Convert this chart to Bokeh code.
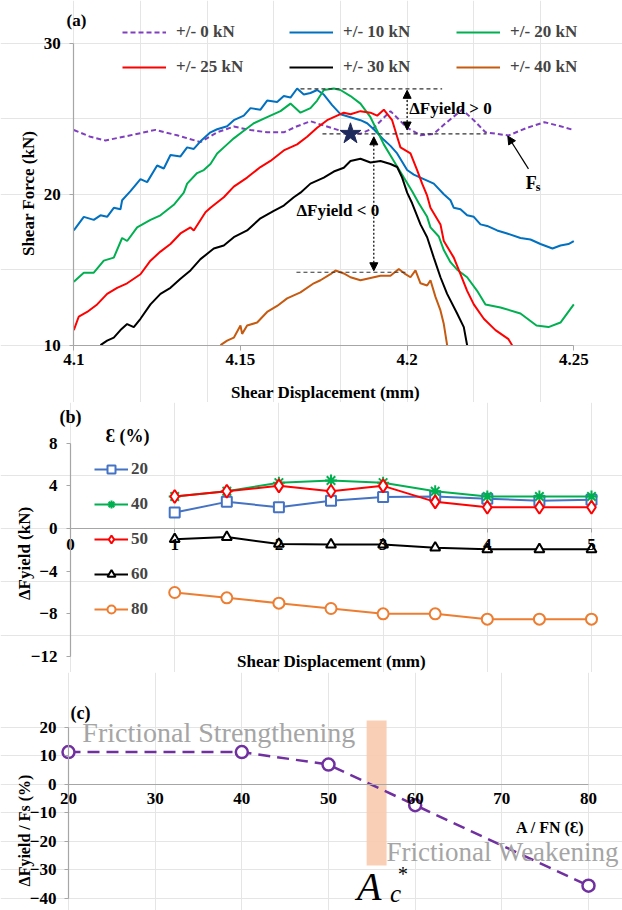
import math
from bokeh.plotting import figure
from bokeh.models import (LinearAxis, FixedTicker, Legend, LegendItem, Arrow,
                          NormalHead, Range1d, NumeralTickFormatter)
from bokeh.layouts import column
from bokeh.embed import file_html
from bokeh.resources import INLINE
from bokeh.core.properties import value

# ---------------- data: panel (a) ----------------
fs_0kN = [(4.100, 24.25), (4.105, 23.8), (4.1095, 23.56), (4.117, 23.9), (4.1245, 24.26),
          (4.131, 23.9), (4.138, 23.45), (4.143, 24.1), (4.148, 24.48), (4.153, 24.25),
          (4.158, 24.1), (4.163, 24.1), (4.167, 24.5), (4.171, 24.83), (4.175, 24.55),
          (4.1815, 24.1), (4.186, 24.0), (4.190, 24.4), (4.195, 25.5), (4.200, 24.4),
          (4.204, 23.9), (4.208, 24.0), (4.211, 24.6), (4.2165, 25.6), (4.220, 24.9),
          (4.2235, 24.1), (4.2304, 23.89), (4.236, 24.4), (4.2412, 24.77), (4.246, 24.5),
          (4.250, 24.25)]
fs_10kN = [(4.100, 17.6), (4.103, 18.5), (4.106, 18.3), (4.108, 18.6), (4.110, 18.5), (4.112, 19.1),
           (4.114, 19.0), (4.1145, 19.6), (4.117, 20.2), (4.120, 21.0), (4.122, 20.8), (4.125, 21.9),
           (4.127, 21.7), (4.129, 22.6), (4.132, 22.5), (4.134, 23.1), (4.136, 23.0), (4.138, 23.5),
           (4.141, 24.1), (4.143, 24.3), (4.146, 24.5), (4.148, 24.9), (4.151, 25.2), (4.153, 25.7),
           (4.156, 25.6), (4.158, 26.2), (4.161, 26.1), (4.163, 26.5), (4.165, 26.4), (4.167, 27.0),
           (4.169, 26.6), (4.171, 26.7), (4.173, 26.9), (4.175, 26.6), (4.1775, 25.9), (4.180, 25.3),
           (4.183, 25.1), (4.186, 24.9), (4.188, 24.7), (4.190, 24.3), (4.193, 23.6), (4.195, 23.2),
           (4.197, 22.7), (4.200, 21.6), (4.202, 21.3), (4.204, 21.1), (4.206, 20.9), (4.208, 20.7),
           (4.211, 20.0), (4.213, 19.6), (4.214, 19.1), (4.216, 19.0), (4.218, 18.6), (4.220, 18.5),
           (4.222, 18.0), (4.224, 17.9), (4.227, 17.6), (4.230, 17.4), (4.234, 17.1), (4.237, 17.0),
           (4.240, 16.7), (4.2436, 16.4), (4.246, 16.6), (4.2484, 16.7), (4.250, 16.9)]
fs_20kN = [(4.100, 14.2), (4.103, 14.8), (4.106, 14.8), (4.109, 15.6), (4.112, 15.8), (4.1145, 17.1),
           (4.116, 16.9), (4.119, 17.8), (4.123, 18.3), (4.126, 18.6), (4.130, 19.3), (4.133, 20.1),
           (4.134, 20.7), (4.137, 21.4), (4.139, 21.6), (4.141, 22.0), (4.143, 22.7), (4.146, 23.3),
           (4.148, 23.7), (4.151, 24.2), (4.154, 24.7), (4.158, 25.1), (4.162, 25.5), (4.165, 26.0),
           (4.168, 25.4), (4.171, 25.7), (4.173, 26.2), (4.175, 26.9), (4.178, 27.0), (4.180, 26.9),
           (4.183, 26.5), (4.186, 26.0), (4.189, 25.1), (4.191, 24.2), (4.193, 23.3), (4.196, 22.2),
           (4.199, 21.1), (4.2015, 20.2), (4.2035, 19.4), (4.206, 18.5), (4.207, 17.8), (4.2095, 17.2),
           (4.211, 16.3), (4.213, 15.5), (4.215, 15.0), (4.218, 14.5), (4.221, 13.6), (4.2235, 12.7),
           (4.228, 12.5), (4.234, 12.1), (4.2388, 11.3), (4.2424, 11.2), (4.246, 11.5), (4.250, 12.7)]
fs_25kN = [(4.100, 11.0), (4.1015, 11.9), (4.104, 12.2), (4.107, 12.7), (4.110, 13.4), (4.113, 13.8),
           (4.116, 14.1), (4.120, 14.7), (4.123, 15.6), (4.126, 16.2), (4.129, 16.7), (4.132, 17.4),
           (4.135, 17.8), (4.136, 17.6), (4.1395, 18.8), (4.141, 19.1), (4.145, 19.8), (4.148, 20.5),
           (4.152, 21.1), (4.156, 21.8), (4.159, 22.2), (4.163, 22.9), (4.167, 23.3), (4.170, 23.8),
           (4.173, 24.4), (4.176, 24.9), (4.179, 25.2), (4.181, 25.4), (4.183, 25.3), (4.186, 25.5),
           (4.189, 25.4), (4.191, 25.2), (4.193, 25.6), (4.1955, 24.9), (4.197, 23.8), (4.198, 23.1),
           (4.201, 22.7), (4.203, 21.6), (4.2045, 20.7), (4.206, 19.9), (4.207, 19.1), (4.210, 18.0),
           (4.211, 16.9), (4.214, 15.8), (4.216, 14.7), (4.218, 13.6), (4.220, 12.7), (4.223, 11.75),
           (4.2265, 11.0), (4.2304, 10.4), (4.2315, 10.0)]
fs_30kN = [(4.108, 10.0), (4.110, 10.3), (4.112, 10.5), (4.114, 11.0), (4.116, 11.4), (4.118, 11.2),
           (4.120, 11.75), (4.123, 12.7), (4.126, 13.4), (4.129, 13.8), (4.132, 14.4), (4.135, 14.95),
           (4.138, 15.7), (4.142, 16.4), (4.145, 16.6), (4.148, 17.15), (4.152, 17.6), (4.156, 18.4),
           (4.160, 18.9), (4.163, 19.25), (4.166, 19.8), (4.168, 20.1), (4.171, 20.7), (4.175, 21.1),
           (4.178, 21.5), (4.181, 21.75), (4.183, 22.2), (4.186, 22.35), (4.189, 22.1), (4.192, 22.2),
           (4.195, 22.0), (4.197, 21.8), (4.1985, 21.1), (4.200, 20.1), (4.2015, 19.4), (4.204, 18.0),
           (4.206, 17.15), (4.208, 15.8), (4.210, 14.5), (4.212, 13.4), (4.215, 12.1), (4.217, 11.2),
           (4.218, 10.0)]
fs_40kN = [(4.144, 10.0), (4.146, 10.3), (4.148, 10.5), (4.150, 11.3), (4.1505, 10.75), (4.152, 11.3),
           (4.155, 11.5), (4.158, 12.2), (4.161, 12.6), (4.164, 13.1), (4.168, 13.5), (4.172, 14.1),
           (4.174, 14.3), (4.177, 14.7), (4.1785, 14.95), (4.181, 14.75), (4.183, 14.5), (4.186, 14.3),
           (4.189, 14.45), (4.192, 14.6), (4.195, 14.6), (4.1975, 15.05), (4.1995, 14.7), (4.201, 14.5),
           (4.2025, 14.95), (4.204, 14.1), (4.206, 13.95), (4.207, 14.3), (4.2085, 13.2), (4.210, 12.3),
           (4.211, 11.4), (4.212, 10.0)]
a_names = ["+/- 0 kN", "+/- 10 kN", "+/- 20 kN", "+/- 25 kN", "+/- 30 kN", "+/- 40 kN"]
a_x_ticks = [4.1, 4.15, 4.2, 4.25]
a_y_ticks = [10, 20, 30]
# annotation values (a)
yield_hi, yield_ref, yield_lo = 26.98, 24.0, 14.83
star_pt = (4.183, 24.0)

# ---------------- data: panel (b) ----------------
b_x = [1, 1.5, 2, 2.5, 3, 3.5, 4, 4.5, 5]
b_eps20 = [1.5, 2.5, 2.0, 2.6, 2.95, 3.0, 2.8, 2.6, 2.7]
b_eps40 = [3.0, 3.5, 4.3, 4.5, 4.3, 3.5, 3.0, 3.0, 3.0]
b_eps50 = [3.0, 3.5, 4.0, 3.5, 4.0, 2.5, 2.0, 2.0, 2.0]
b_eps60 = [-1.0, -0.8, -1.45, -1.5, -1.5, -1.8, -1.95, -1.95, -1.95]
b_eps80 = [-6.0, -6.5, -7.0, -7.5, -8.0, -8.0, -8.5, -8.5, -8.5]
b_names = ["20", "40", "50", "60", "80"]
b_x_ticks = [0, 1, 2, 3, 4, 5]
b_y_ticks = [-12, -8, -4, 0, 4, 8]

# ---------------- data: panel (c) ----------------
c_x = [20, 40, 50, 60, 80]
c_y = [11.3, 11.3, 6.9, -7.3, -35.5]
c_x_ticks = [20, 30, 40, 50, 60, 70, 80]
c_y_ticks = [-40, -30, -20, -10, 0, 10, 20]
c_band = (54.4, 56.7, -28.4, 22.35)   # A*c band: x0, x1, y0, y1

SERIF = value("Liberation Serif")
FONT = "Liberation Serif"
W = 622
AXIS_GRAY = "#A6A6A6"


def base_fig(height, xr, yr):
    p = figure(width=W, height=height, x_range=Range1d(*xr), y_range=Range1d(*yr),
               output_backend="svg", toolbar_location=None,
               x_axis_location=None, y_axis_location=None,
               min_border_left=0, min_border_right=0, min_border_top=0, min_border_bottom=0)
    p.outline_line_color = None
    p.background_fill_color = "white"
    p.border_fill_color = "white"
    return p


def add_axis(p, side, loc, ticks, bounds, tick_out=4, standoff=8, fmt=None):
    ax = LinearAxis(fixed_location=loc, ticker=FixedTicker(ticks=ticks), bounds=bounds)
    ax.axis_line_color = AXIS_GRAY
    ax.axis_line_width = 1.2
    ax.major_tick_line_color = AXIS_GRAY if tick_out else None
    ax.major_tick_out = tick_out
    ax.major_tick_in = 0
    ax.minor_tick_line_color = None
    ax.major_label_text_font = FONT
    ax.major_label_text_font_style = "bold"
    ax.major_label_text_font_size = "17px"
    ax.major_label_text_color = "black"
    ax.major_label_standoff = standoff
    if fmt:
        ax.formatter = fmt
    p.add_layout(ax, side)
    return ax


def label(p, x, y, txt, size="17px", align="left", angle=0.0, style="bold",
          color="black", baseline="middle"):
    p.text(x=[x], y=[y], text=[txt], text_font=SERIF, text_font_style=style,
           text_font_size=size, text_align=align, text_baseline=baseline,
           angle=angle, text_color=color)


# ================= panel (a) =================
pa = base_fig(402, (4.07801, 4.26461), (6.205, 32.828))
add_axis(pa, "below", 10, a_x_ticks, (4.1, 4.25), tick_out=5, standoff=4,
         fmt=NumeralTickFormatter(format="0.0[0]"))
add_axis(pa, "left", 4.1, a_y_ticks, (10, 30), tick_out=4, standoff=9)

a_series = [fs_0kN, fs_10kN, fs_20kN, fs_25kN, fs_30kN, fs_40kN]
a_colors = ["#7F3FBF", "#0070C0", "#00B050", "#FF0000", "#000000", "#C55A11"]
a_rends = []
for ser, col in zip(a_series, a_colors):
    xs = [v[0] for v in ser]
    ys = [v[1] for v in ser]
    if ser is fs_0kN:
        r = pa.line(xs, ys, line_color=col, line_width=2, line_dash="5 3")
    else:
        r = pa.line(xs, ys, line_color=col, line_width=2)
    a_rends.append(r)

# yield reference lines and arrows
DASH = dict(line_color="#333333", line_width=1.2, line_dash="4 3")
pa.segment(x0=[4.168], y0=[yield_hi], x1=[4.2105], y1=[yield_hi], **DASH)
pa.segment(x0=[4.1746], y0=[yield_ref], x1=[4.2238], y1=[yield_ref], **DASH)
pa.segment(x0=[4.1668], y0=[yield_lo], x1=[4.200], y1=[yield_lo], **DASH)


def head():
    return NormalHead(size=8, fill_color="black", line_color="black")


pa.add_layout(Arrow(start=head(), end=head(), x_start=4.2, y_start=yield_ref + 0.25,
                    x_end=4.2, y_end=yield_hi - 0.1, line_dash="2 2", line_width=1.2))
pa.add_layout(Arrow(start=head(), end=head(), x_start=4.19, y_start=yield_lo + 0.1,
                    x_end=4.19, y_end=yield_ref - 0.2, line_dash="2 2", line_width=1.2))
pa.add_layout(Arrow(end=head(), x_start=4.2364, y_start=21.68, x_end=4.2302, y_end=23.85,
                    line_width=1.2))
pa.scatter(x=[star_pt[0]], y=[star_pt[1]], marker="star", size=22, fill_color="#1F2A5C",
           line_color="#1F2A5C")

label(pa, 4.2006, 25.66, "ΔFyield > 0")
label(pa, 4.1668, 18.92, "ΔFyield < 0")
label(pa, 4.2356, 20.75, "F", size="18px")
label(pa, 4.2386, 20.45, "s", size="12px")
label(pa, 4.0978, 31.5, "(a)")
label(pa, 4.0864, 20.05, "Shear Force (kN)", align="center", angle=math.pi / 2)
label(pa, 4.1755, 6.87, "Shear Displacement (mm)", align="center")

LEG = dict(orientation="horizontal", glyph_width=44, glyph_height=20, label_height=20,
           label_standoff=10, label_width=103, spacing=10, padding=0, margin=0,
           border_line_color=None, background_fill_alpha=0,
           label_text_font=FONT, label_text_font_style="bold", label_text_font_size="17px")
leg1 = Legend(items=[LegendItem(label=a_names[i], renderers=[a_rends[i]]) for i in range(3)],
              location=(122, 360), **LEG)
leg2 = Legend(items=[LegendItem(label=a_names[i], renderers=[a_rends[i]]) for i in range(3, 6)],
              location=(122, 325), **LEG)
pa.add_layout(leg1)
pa.add_layout(leg2)

# ================= panel (b) =================
pb = base_fig(270, (-0.6718, 5.2975), (-13.5, 11.816))
add_axis(pb, "below", 0, b_x_ticks, (0, 5), tick_out=4, standoff=6)
add_axis(pb, "left", 0, b_y_ticks, (-12, 8), tick_out=4, standoff=9)

b_series = [b_eps20, b_eps40, b_eps50, b_eps60, b_eps80]
b_colors = ["#4472C4", "#00B050", "#FF0000", "#000000", "#ED7D31"]
b_markers = ["square", "asterisk", "diamond", "triangle", "circle"]
b_sizes = [10, 12, 13, 10, 11]
b_items = []
for ser, col, mk, sz, nm in zip(b_series, b_colors, b_markers, b_sizes, b_names):
    rl = pb.line(b_x, ser, line_color=col, line_width=2)
    rm = pb.scatter(b_x, ser, marker=mk, size=sz, line_color=col, fill_color="white",
                    line_width=2)
    b_items.append(LegendItem(label=nm, renderers=[rl, rm]))

legb = Legend(items=b_items, location=(94, 53), orientation="vertical", glyph_width=34,
              glyph_height=20, label_height=20, label_standoff=3, spacing=15, padding=0,
              margin=0, border_line_color=None, background_fill_alpha=0,
              label_text_font=FONT, label_text_font_style="bold", label_text_font_size="17px")
pb.add_layout(legb)

label(pb, -0.1056, 10.5, "(b)", size="18px")
label(pb, 0.336, 8.72, "Ɛ (%)", size="18px")
label(pb, 2.505, -12.47, "Shear Displacement (mm)", align="center")
label(pb, -0.4415, -2.34, "ΔFyield (kN)", align="center", angle=math.pi / 2)

# ================= panel (c) =================
pc = base_fig(238, (12.154, 83.923), (-44.2, 39.16))
pc.quad(left=[c_band[0]], right=[c_band[1]], bottom=[c_band[2]], top=[c_band[3]],
        fill_color="#F8CBAD", line_color=None, fill_alpha=0.9)
add_axis(pc, "below", 0, c_x_ticks, (20, 80), tick_out=0, standoff=9)
add_axis(pc, "left", 20, c_y_ticks, (-40, 20), tick_out=4, standoff=8)

pc.line(c_x, c_y, line_color="#7030A0", line_width=2.5, line_dash="12 7")
pc.scatter(c_x, c_y, marker="circle", size=12, line_color="#7030A0", fill_color="white",
           line_width=2.5)

GRAY = "#A5A5A5"
label(pc, 21.6, 18.25, "Frictional  Strengthening", size="28px", style="normal", color=GRAY)
label(pc, 56.7, -23.78, "Frictional  Weakening", size="27px", style="normal", color=GRAY)
label(pc, 20.23, 24.8, "(c)", size="18px")
label(pc, 79.54, -15.13, "A / FN (Ɛ)", align="right", size="16px")
label(pc, 14.92, -16.18, "ΔFyield / Fs (%)", align="center", angle=math.pi / 2, size="16px")
label(pc, 53.3, -35.8, "A", size="40px", style="italic")
label(pc, 57.9, -31.3, "*", size="20px", style="italic")
label(pc, 57.1, -38.4, "c", size="25px", style="italic")

page = column(pa, pb, pc, spacing=0)
open("out.html", "w").write(file_html(page, INLINE))
